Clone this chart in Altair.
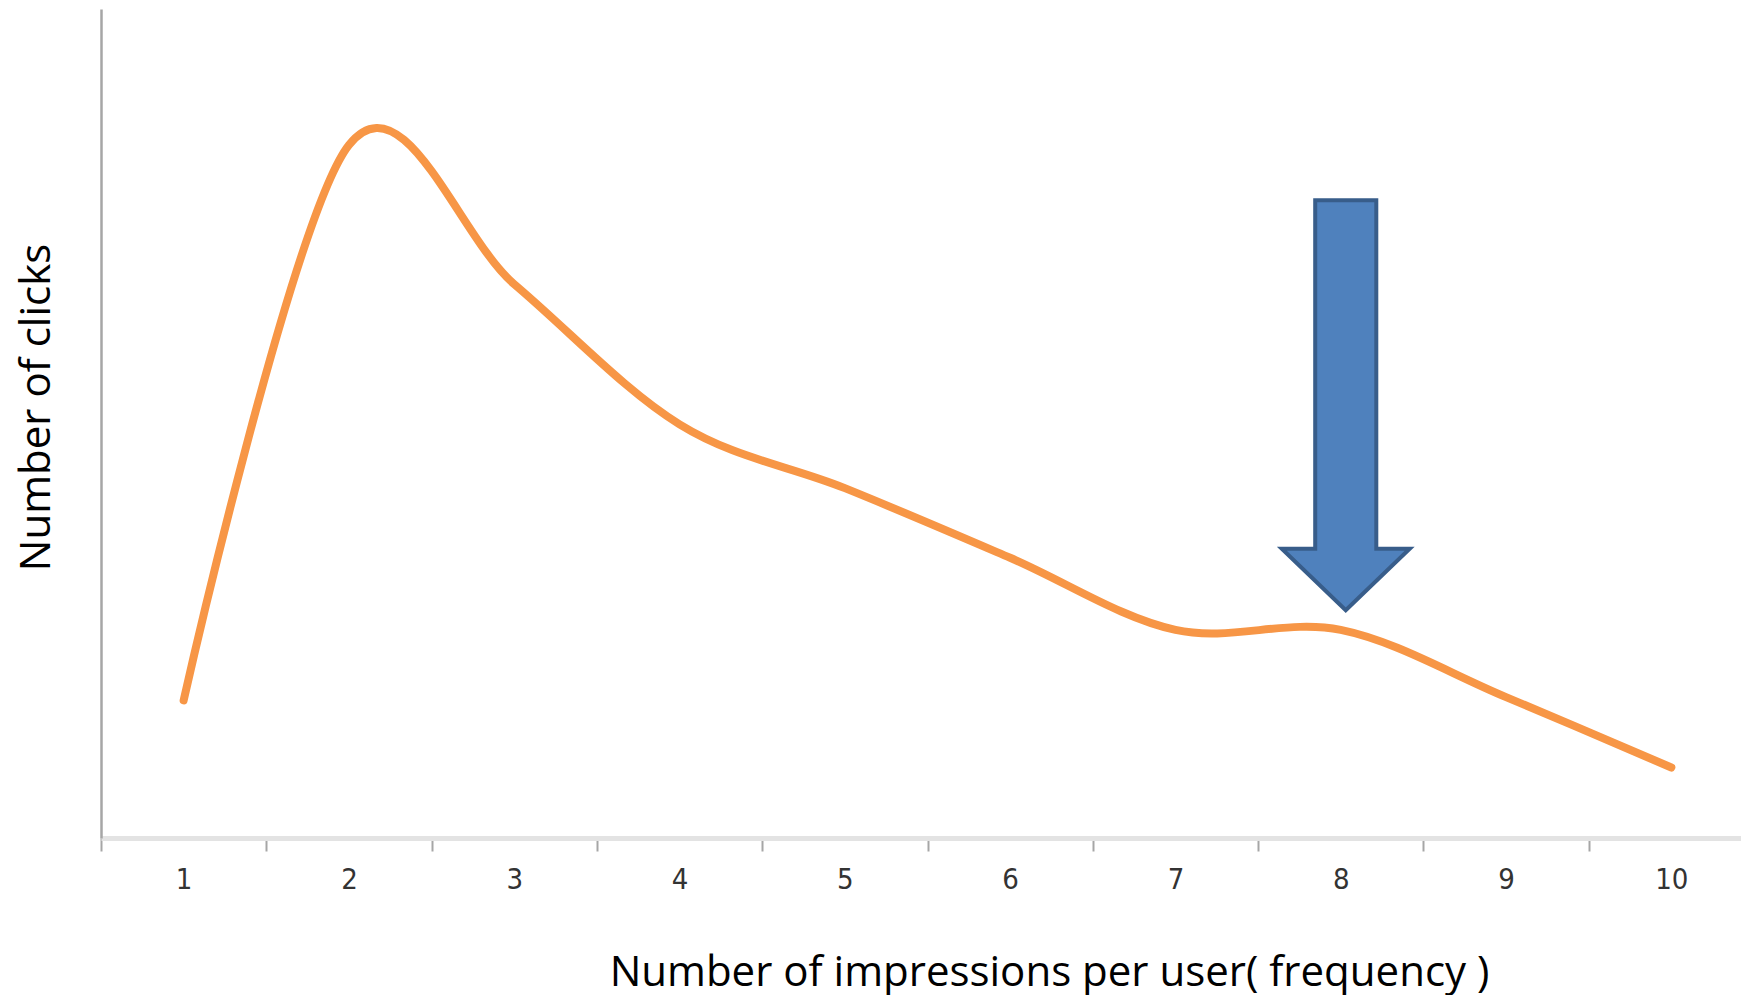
import altair as alt
import pandas as pd

# Data (relative click level, 0-100 scale)
frequency = [1, 2, 3, 4, 5, 6, 7, 8, 9, 10]
clicks = [16.6, 83.6, 66.8, 49.9, 42.2, 33.8, 25.1, 25.1, 17.0, 8.5]

# Annotation arrow: points at frequency 8, centred at this level
arrow_frequency = [8]
arrow_level = [52.2]

line_df = pd.DataFrame({"freq": frequency, "clicks": clicks})
arrow_df = pd.DataFrame({"freq": arrow_frequency, "clicks": arrow_level})

x_scale = alt.Scale(type="band", paddingInner=0, paddingOuter=0)
y_scale = alt.Scale(domain=[0, 100], nice=False, zero=True)

x_axis = alt.Axis(
    title="Number of impressions per user( frequency )",
    labelAngle=0,
    tickBand="extent",
    domainColor="#e3e3e3",
    domainWidth=5,
    tickColor="#a6a6a6",
    tickWidth=2,
    tickSize=13,
    labelFont="Liberation Sans Narrow, DejaVu Sans Condensed, sans-serif",
    labelFontSize=29,
    labelColor="#333333",
    labelPadding=14,
    grid=False,
    titleFont="Open Sans",
    titleFontSize=42,
    titleFontWeight="normal",
    titleColor="#000000",
    titleX=948,
    titleY=147,
    titleAlign="center",
    titleBaseline="alphabetic",
    titleAngle=0,
)

y_axis = alt.Axis(
    title="Number of clicks",
    labels=False,
    ticks=False,
    grid=False,
    domainColor="#a6a6a6",
    domainWidth=2.5,
    titleFont="Open Sans",
    titleFontSize=42,
    titleFontWeight="normal",
    titleColor="#000000",
    titleX=-52,
    titleY=398,
    titleAlign="center",
    titleBaseline="alphabetic",
    titleAngle=270,
)

line = alt.Chart(line_df).mark_line(
    interpolate="cardinal",
    tension=0,
    color="#f79646",
    strokeWidth=8,
    strokeCap="round",
).encode(
    x=alt.X("freq:O", scale=x_scale, axis=x_axis, bandPosition=0.5),
    y=alt.Y("clicks:Q", scale=y_scale, axis=y_axis),
)

arrow_path = (
    "M -0.149 -1 L 0.149 -1 L 0.149 0.70 L 0.312 0.70 "
    "L 0 1 L -0.312 0.70 L -0.149 0.70 Z"
)

arrow = alt.Chart(arrow_df).mark_point(
    shape=arrow_path,
    filled=True,
    fill="#4f81bd",
    stroke="#385d8a",
    strokeWidth=4,
    strokeJoin="miter",
    size=168100,
    opacity=1,
    xOffset=5,
).encode(
    x=alt.X("freq:O", bandPosition=0.5),
    y=alt.Y("clicks:Q"),
)

chart = (
    alt.layer(line, arrow)
    .properties(
        width=1653,
        height=829,
        autosize=alt.AutoSizeParams(type="none"),
        padding={"left": 93, "top": 1, "right": -13, "bottom": 168},
        background="#ffffff",
    )
    .configure_view(stroke=None)
)

chart.save("out.html", embed_options={"renderer": "svg", "actions": False})
